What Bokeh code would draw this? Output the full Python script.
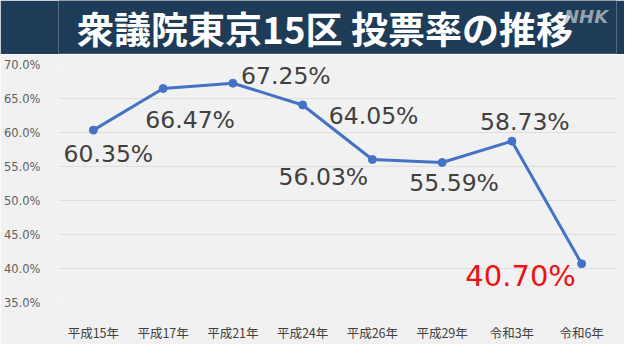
from bokeh.plotting import figure
from bokeh.layouts import column
from bokeh.models import ColumnDataSource, Range1d, FactorRange, FixedTicker
from bokeh.core.properties import value
from bokeh.embed import file_html
from bokeh.resources import INLINE

# ---- data ----
title_text = "衆議院東京15区 投票率の推移"
categories = ["平成15年", "平成17年", "平成21年", "平成24年", "平成26年", "平成29年", "令和3年", "令和6年"]
turnout = [60.35, 66.47, 67.25, 64.05, 56.03, 55.59, 58.73, 40.70]
turnout_labels = ["60.35%", "66.47%", "67.25%", "64.05%", "56.03%", "55.59%", "58.73%", "40.70%"]
y_ticks = [35, 40, 45, 50, 55, 60, 65, 70]
y_tick_labels = ["35.0%", "40.0%", "45.0%", "50.0%", "55.0%", "60.0%", "65.0%", "70.0%"]

# ---- styling (label placement relative to points, px) ----
label_dx = [15, 27, 53, 71, -49, 12, 13, -61]
label_dy = [24, 31, -7, 11, 18, 21, -19, 12]
label_colors = ["#404040"] * 7 + ["#ee1111"]
label_sizes = ["23.5px"] * 7 + ["29px"]

BG = "#f1f1f1"
NAVY = "#1e3c57"
W = 624
BH = 54

# ---- banner ----
banner = figure(width=W, height=BH, x_range=Range1d(0, W), y_range=Range1d(0, BH),
                output_backend="svg", toolbar_location=None, min_border=0)
banner.axis.visible = False
banner.grid.visible = False
banner.outline_line_color = None
banner.background_fill_color = NAVY
banner.border_fill_color = NAVY
banner.text(x=[298], y=[27], text=[title_text], text_align="center", text_baseline="middle",
            text_font=value("Noto Sans CJK JP"), text_font_style="bold",
            text_font_size="37px", text_color="white")
banner.text(x=[590], y=[38], text=["NHK"], text_align="center", text_baseline="middle",
            text_font=value("DejaVu Sans"), text_font_style="bold italic",
            text_font_size="18px", text_color="#b8c0c8", text_alpha=0.8)
banner.line(x=[0, W], y=[0.5, 0.5], line_color="#5d7a94", line_width=1)

# ---- chart ----
src = ColumnDataSource(dict(cat=categories, v=turnout, lab=turnout_labels,
                            dx=label_dx, dy=label_dy, col=label_colors, fs=label_sizes))

p = figure(width=W, height=344 - BH, x_range=FactorRange(*categories), y_range=Range1d(35, 70),
           output_backend="svg", toolbar_location=None,
           min_border_left=55, min_border_right=8, min_border_top=10, min_border_bottom=37)
p.background_fill_color = BG
p.border_fill_color = BG
p.outline_line_color = None

p.xgrid.visible = False
p.ygrid.grid_line_color = "#dedede"
p.ygrid.grid_line_width = 1

p.yaxis.ticker = FixedTicker(ticks=y_ticks)
p.yaxis.major_label_overrides = {t: l for t, l in zip(y_ticks, y_tick_labels)}
p.yaxis.major_label_text_font = "DejaVu Sans"
p.yaxis.major_label_text_font_size = "11.5px"
p.yaxis.major_label_text_color = "#606060"
p.yaxis.major_label_standoff = 12

p.xaxis.major_label_text_font = "Noto Sans CJK JP"
p.xaxis.major_label_text_font_size = "12.5px"
p.xaxis.major_label_text_color = "#404040"
p.xaxis.major_label_standoff = 14

for ax in (p.xaxis, p.yaxis):
    ax.axis_line_color = None
    ax.major_tick_line_color = None
    ax.minor_tick_line_color = None

p.line(x="cat", y="v", source=src, line_color="#4472c4", line_width=3)
p.scatter(x="cat", y="v", source=src, size=8, fill_color="#4472c4", line_color="#4472c4")
p.text(x="cat", y="v", text="lab", source=src, x_offset="dx", y_offset="dy",
       text_align="center", text_baseline="middle", text_color="col",
       text_font=value("DejaVu Sans"), text_font_size="fs")

layout = column(banner, p, spacing=0)
open("out.html", "w").write(file_html(layout, INLINE))
